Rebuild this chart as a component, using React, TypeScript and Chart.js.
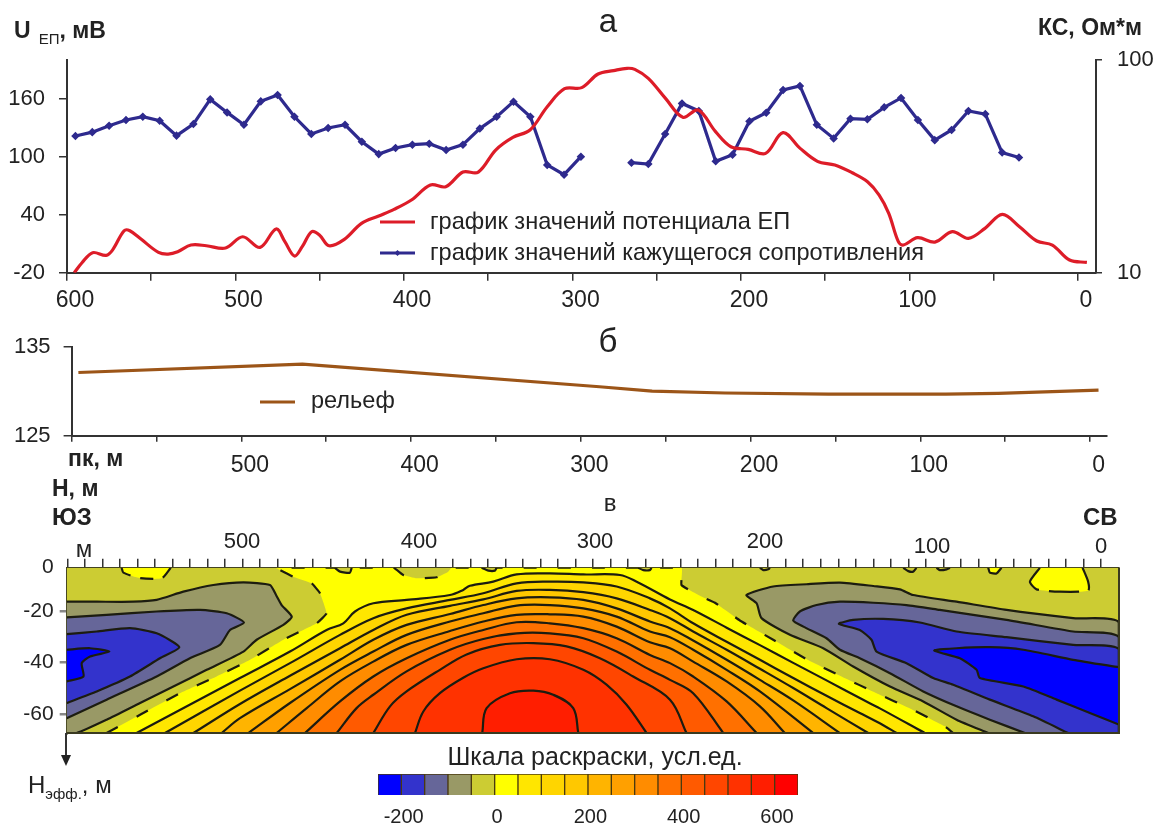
import React, { useEffect, useRef } from "react";
import { Chart, registerables } from "chart.js";

Chart.register(...registerables);

const FONT = '"Liberation Sans", Arial, sans-serif';
const TEXT = "#222222";

// ---- panel a
const epPk = [595.7,591.1,584.8,576.8,573,566.1,562.7,555.9,545.7,540,534.3,526.4,517.3,505.9,495.7,485.4,475.9,470.7,465,460.4,454.8,450.2,444.5,435.4,425.2,415,405.9,395.6,384.3,375.2,365,355.9,345.6,335.4,325.2,315,304.7,294.5,284.8,275.6,267.6,263,255,244.8,234.5,225.4,215.1,206,195.7,185.4,175.1,164.9,154.6,144.3,134,124.9,118,112.3,106.6,103.6,95.2,84.9,74.6,65,55.2,44.9,34.7,24.4,15.2,5,-5.3];
const epValues = [-20,-9.7,0.7,-2.1,3.4,23.4,23.4,14.5,1,-0.7,1.7,8.6,7.9,5.5,17.2,6.2,25.2,12.1,-2.8,6.9,22.4,19,7.9,14.5,31,38.6,45.5,55.2,70.7,69,84.1,84.1,106.9,120,127.6,151.7,170.3,171.4,185.5,189,191.4,190.3,181,160.3,140.7,148.3,125.9,110.3,107.6,103.4,124.8,108.6,95.2,91.4,83.4,74.1,60.3,41.4,12.1,8.6,16.2,11.7,22.4,15.5,25.9,40.3,27.6,12.8,8.6,-6.9,-9.3];
const ksPk = [595,585,575,565,555,545,535,525,515,505,495,485,475,465,455,445,435,425,415,405,395,385,375,365,355,345,335,325,315,305,295,280,265,255,245,235,225,215,205,195,185,175,165,155,145,135,125,115,105,95,85,75,65,55,45,35];
const ksValues = [43.9,45.8,49.1,52.2,54.1,51.8,44.1,50,65.3,56.7,49.6,63.9,68.5,54.1,44.9,47.9,49.6,41.3,36.1,38.6,40,40.4,37.7,40,47.6,54.1,63.7,54.1,32.1,28.9,35.1,null,32.9,32.4,44.9,62.5,57.6,33.4,35.9,51.5,56.5,72.3,75.5,49.6,42.8,53,52.6,59.9,66.3,52.2,42,46.9,57.6,55.7,36.7,34.8];
const axisTicksA = [0,50,100,150,200,250,300,350,400,450,500,550,600];
const epTicks = [-20,40,100,160];
const ksTicks = [10,100];

// ---- panel b
const reliefPk = [596,464,289,258,215,154,85,54,-5];
const reliefH = [132.1,133.05,130.5,130,129.8,129.68,129.68,129.76,130.13];
const reliefHTicks = [125,135];

// ---- panel c: contours as [picket m, depth m]
const frameTop = -3.17;
const frameBottom = -67.48;
const depthTicks = [frameTop,-20,-40,-60];
const olive: number[][] = [[593.4,-3.17],[-10.3,-3.17],[-10.3,-67.48],[593.4,-67.48]];
const grayLeft = [[593.4,-16.4],[576.2,-16.4],[555.2,-16.4],[541.8,-15.7],[526.5,-12.5],[509.3,-9.9],[492,-8.9],[476.8,-9.9],[473.3,-13.8],[470.1,-17.7],[464.3,-22.2],[469.1,-25.4],[484.4,-31.2],[492,-35.8],[513.1,-42.9],[532.2,-49.4],[551.3,-55.8],[570.5,-62.3],[587.7,-67.5],[593.4,-67.5]];
const slateLeft = [[593.4,-22.5],[570.5,-21.5],[541.8,-20.2],[516.9,-19.6],[501.6,-20.9],[491.7,-24.5],[499.7,-27.4],[505.5,-33.2],[522.7,-38.4],[541.8,-45.5],[570.5,-54.5],[593.4,-61.7]];
const blueLeft = [[593.4,-29],[576.2,-28],[557.1,-26.7],[541.8,-28.7],[528.8,-34.1],[539.9,-38.4],[557.1,-45.5],[576.2,-51.3],[593.4,-55.8]];
const deepLeft = [[593.4,-35.1],[580,-34.5],[568.9,-35.8],[580,-37.7],[584.8,-40.3],[583.8,-45.5],[593.4,-47.4]];
const grayRight = [[64.7,-67.5],[82.9,-62.3],[102,-55.2],[121.1,-49.4],[142.2,-41.6],[159.4,-34.5],[178.5,-29.3],[194.8,-22.8],[197.6,-17],[203.4,-13.8],[188.1,-10.5],[168.9,-9.6],[149.8,-9],[130.7,-10.3],[115.4,-11.6],[107.8,-13.8],[82.9,-16.4],[54.2,-19.6],[16,-22.8],[-10.2,-24.5],[-10.2,-67.5]];
const slateRight = [[43.7,-67.5],[63.8,-62.3],[82.9,-57.1],[102,-51.3],[121.1,-44.2],[138.4,-38.4],[149.8,-35.1],[157.5,-30.6],[170.8,-26.1],[176.6,-23.7],[172.8,-20.2],[163.2,-17.7],[149.8,-16.4],[130.7,-16.8],[111.6,-17.7],[92.5,-19.6],[54.2,-23.5],[16,-28],[-10.2,-30.2],[-10.2,-67.5]];
const blueRight = [[18.9,-67.5],[38.9,-61],[63.8,-54.5],[84.8,-48.7],[96.3,-46.1],[111.6,-40.3],[128.8,-35.8],[131.7,-31.2],[138.4,-27.4],[150.4,-25],[142.2,-23.5],[125,-23.1],[103.9,-24.5],[82.9,-28],[54.2,-30.2],[16,-33.2],[-10.2,-34.9],[-10.2,-67.5]];
const deepRight = [[-10.2,-64.2],[6.4,-59.7],[25.5,-54.5],[44.6,-49.4],[69.5,-46.1],[71.4,-42.9],[81,-38.4],[95.7,-35.4],[82.9,-34.5],[63.8,-34.1],[44.6,-35.1],[16,-39],[-10.2,-41.9]];
const zeroLine = [[570.5,-67.5],[551.3,-60.4],[528.4,-52],[507.4,-45.5],[488.2,-39],[469.1,-31.2],[450,-24.8],[444.3,-20.9],[448.1,-13.1],[452.9,-9.25],[463.4,-6.7],[471,-4.1],[473.3,-3.2],[406,-3.2],[400.3,-6],[392.6,-7.3],[381.2,-6.9],[374.5,-4.7],[372.6,-3.2],[240.7,-3.2],[240.7,-9.9],[229.2,-14.4],[221.5,-16.8],[207.2,-23.7],[188.1,-31.2],[168.9,-38.8],[148.9,-45.5],[128.8,-52],[108.7,-58.2],[89.6,-64.9],[84.8,-67.5]];
const zeroPocketA = [[561.9,-3.2],[560.9,-5.1],[551.3,-7.2],[538.9,-7.3],[533.7,-3.2]];
const zeroPocketB = [[35.1,-3.2],[40.8,-8.6],[37,-11.6],[23.6,-12.5],[7.4,-12.1],[7.4,-8.6],[10.6,-3.2]];
const bumps = [
  [[439.5,-3.2],[436.6,-4.7],[430.9,-5.1],[429.9,-3.2]],
  [[355.4,-3.2],[351.5,-4.3],[347.7,-4.3],[346.8,-3.2]],
  [[265.5,-3.2],[262.6,-4.1],[258.8,-4.1],[257.9,-3.2]],
  [[195.7,-3.2],[193.8,-4.1],[190.9,-3.8],[190,-3.2]],
  [[113.5,-3.2],[110.6,-4.5],[107.8,-4.7],[105.9,-3.2]],
  [[94.4,-3.2],[92.5,-4.1],[88.6,-3.8],[86.7,-3.2]],
  [[64.7,-3.2],[63.8,-5.1],[60,-5.4],[57.1,-3.2]],
];
const L1 = [[553.3,-67.5],[494,-46.1],[465.3,-35.8],[444.3,-27.4],[434.7,-24.8],[428,-20.2],[417.5,-17],[398.4,-15.7],[373.5,-13.8],[365.9,-11.8],[362.1,-10.2],[348.7,-8.6],[335.3,-5.8],[316.2,-5.4],[297,-5.8],[276,-6],[266.4,-8.6],[247.3,-15.5],[234,-19.6],[214.8,-26.5],[195.7,-33.3],[176.6,-40.2],[157.5,-47],[138.4,-53.9],[126.9,-57.9],[101.1,-67.5]];
const L2 = [[537,-67.5],[494,-51],[465.3,-40.3],[436.6,-29.3],[417.5,-22.8],[398.4,-19],[373.5,-15.7],[354.4,-13.1],[335.3,-9.25],[316.2,-8.6],[297,-8.9],[277.9,-10.5],[258.8,-15.1],[247.3,-19],[234,-24.8],[214.8,-32],[195.7,-39],[176.6,-46.1],[157.5,-53],[138.4,-59.7],[126.9,-63.7],[117.3,-67.5]];
const L3 = [[520.7,-67.5],[494,-56.2],[465.3,-45.2],[436.6,-34.5],[417.5,-27.4],[398.4,-21.5],[373.5,-18],[354.4,-15.5],[335.3,-12.2],[316.2,-11.8],[297,-12.7],[277.9,-15.1],[258.8,-19.6],[247.3,-22.8],[234,-28],[214.8,-35.1],[195.7,-42.5],[176.6,-50],[157.5,-57.8],[133.6,-67.5]];
const L4 = [[504.5,-67.5],[494,-61.7],[465.3,-50.4],[436.6,-39],[417.5,-31.2],[398.4,-25.4],[373.5,-21.2],[354.4,-17.7],[335.3,-15.1],[316.2,-14.7],[297,-15.7],[277.9,-19],[258.8,-24.1],[247.3,-26.7],[234,-31.5],[214.8,-39],[195.7,-46.8],[176.6,-54.8],[149.8,-67.5]];
const L5 = [[489.2,-67.5],[465.3,-55.8],[436.6,-42.9],[417.5,-35.8],[398.4,-29.3],[373.5,-24.1],[354.4,-20.9],[335.3,-17.9],[316.2,-17.7],[297,-19],[277.9,-22.2],[258.8,-28],[247.3,-30.2],[234,-35.1],[214.8,-42.9],[195.7,-51.3],[165.1,-67.5]];
const L6 = [[473,-67.5],[455.7,-57.8],[436.6,-47.4],[417.5,-39.7],[398.4,-33.2],[373.5,-27.8],[354.4,-24.1],[335.3,-21.5],[316.2,-21.3],[297,-22.2],[277.9,-26.1],[258.8,-32.2],[247.3,-34.5],[234,-39.7],[214.8,-47.4],[195.7,-57.1],[181.4,-67.5]];
const L7 = [[456.7,-67.5],[436.6,-55.2],[417.5,-45.5],[398.4,-38.4],[373.5,-31.2],[354.4,-27.4],[335.3,-24.4],[316.2,-24.8],[297,-26.7],[277.9,-30.6],[258.8,-37.1],[247.3,-40.3],[234,-45.5],[214.8,-55.2],[197.6,-67.5]];
const L8 = [[438.5,-67.5],[427.1,-57.8],[417.5,-52.6],[398.4,-43.5],[373.5,-35.1],[354.4,-30.9],[335.3,-28.7],[316.2,-28.7],[297,-30.6],[277.9,-35.8],[258.8,-42.9],[247.3,-46.8],[234,-52],[216.7,-67.5]];
const L9 = [[417.5,-67.5],[407.9,-57.1],[398.4,-51.3],[379.3,-42.9],[364,-36.9],[344.8,-33.2],[325.7,-32.5],[306.6,-33.8],[287.5,-38.4],[268.4,-45.5],[247.3,-54.5],[237.8,-67.5]];
const L10 = [[393.6,-67.5],[388.8,-59.1],[379.3,-52],[365.9,-46],[354.4,-42.3],[335.3,-38.8],[316.2,-38.8],[297,-42.9],[283.7,-48.7],[272.2,-56.5],[260.7,-67.5]];
const L11 = [[355,-67.5],[352.5,-57.8],[339.1,-52],[325.7,-51],[314.3,-52.6],[302.8,-57.8],[299.9,-67.5]];
const domeLines = [L1,L2,L3,L4,L5,L6,L7,L8,L9,L10,L11];

// ---- colour scale
const scaleColors = ["#0000FF","#3333CC","#666699","#999966","#CCCC33","#FFFF00","#FFE600","#FFD500","#FFC800","#FFB400","#FFA000","#FF8C00","#FF7000","#FF5A00","#FF4600","#FF3200","#FF1E00","#FF0000"];
const scaleLabels = ["-200","","","","0","","","","200","","","","400","","","","600",""];

// ---- free-standing labels
const topPicketLabels = [
  { t: "м", x: 84, y: 549, s: 24 },
  { t: "500", x: 242, y: 541, s: 22 },
  { t: "400", x: 419, y: 541, s: 22 },
  { t: "300", x: 595, y: 541, s: 22 },
  { t: "200", x: 765, y: 541, s: 22 },
  { t: "100", x: 932, y: 546, s: 22 },
  { t: "0", x: 1101, y: 546, s: 22 },
];

function Label({ x, y, size, bold, align = "center", children }: any) {
  const tr = align === "center" ? "translate(-50%,-50%)" : "translate(0,-50%)";
  return (
    <div style={{ position: "absolute", left: x, top: y, transform: tr, fontFamily: FONT, fontSize: size, fontWeight: bold ? 700 : 400, color: TEXT, whiteSpace: "nowrap", lineHeight: 1 }}>
      {children}
    </div>
  );
}

const pts = (xs: number[], ys: (number | null)[]) => xs.map((x, i) => ({ x, y: ys[i] }));
const pairs = (a: number[][]) => a.map(([x, y]) => ({ x, y }));

function fixedAxis(width?: number, height?: number) {
  return (s: any) => {
    if (width !== undefined) s.width = width;
    if (height !== undefined) s.height = height;
  };
}

function inlineLegend(items: { index: number; y: number; x0: number; x1: number; tx: number }[], size: number) {
  return {
    id: "inlineLegend",
    afterDraw(chart: any) {
      const ctx = chart.ctx;
      items.forEach((it) => {
        const ds = chart.data.datasets[it.index];
        ctx.save();
        ctx.strokeStyle = ds.borderColor;
        ctx.lineWidth = 3;
        ctx.beginPath();
        ctx.moveTo(it.x0, it.y);
        ctx.lineTo(it.x1, it.y);
        ctx.stroke();
        if (ds.pointRadius > 0) {
          const m = (it.x0 + it.x1) / 2;
          ctx.fillStyle = ds.borderColor;
          ctx.beginPath();
          ctx.moveTo(m - 3, it.y); ctx.lineTo(m, it.y - 3); ctx.lineTo(m + 3, it.y); ctx.lineTo(m, it.y + 3);
          ctx.closePath();
          ctx.fill();
        }
        ctx.fillStyle = TEXT;
        ctx.font = `${size}px ${FONT}`;
        ctx.textBaseline = "middle";
        ctx.textAlign = "left";
        ctx.fillText(ds.label, it.tx, it.y);
        ctx.restore();
      });
    },
  };
}

const framePlugin = {
  id: "frameEdges",
  afterDatasetsDraw(chart: any) {
    const { ctx, chartArea: a } = chart;
    ctx.save();
    ctx.strokeStyle = "#3a3a20";
    ctx.lineWidth = 2;
    ctx.beginPath();
    ctx.moveTo(a.right, a.top);
    ctx.lineTo(a.right, a.bottom);
    ctx.lineTo(a.left, a.bottom);
    ctx.stroke();
    ctx.restore();
  },
};

const base = { animation: false as const, responsive: false, maintainAspectRatio: false, events: [] as string[] };
const noLegend = { legend: { display: false }, tooltip: { enabled: false } };
const AXIS = "#333333";
const tickFont = (size: number) => ({ family: FONT, size });

function buildA(canvas: HTMLCanvasElement) {
  return new Chart(canvas, {
    type: "scatter",
    data: {
      datasets: [
        { label: "график значений потенциала ЕП", data: pts(epPk, epValues), showLine: true, borderColor: "#DD1C28", borderWidth: 3.2, pointRadius: 0, tension: 0.35, yAxisID: "y" },
        { label: "график значений кажущегося сопротивления", data: pts(ksPk, ksValues), showLine: true, borderColor: "#2E2A8E", backgroundColor: "#2E2A8E", borderWidth: 3.2, pointRadius: 2, pointStyle: "rectRot", tension: 0, yAxisID: "y1" },
      ],
    },
    options: {
      ...base,
      layout: { padding: { left: 1, right: 7, top: 60, bottom: 825 - 272.7 - 45 } },
      plugins: noLegend,
      scales: {
        x: {
          type: "linear", reverse: true, min: -10.7, max: 600,
          afterBuildTicks: (s: any) => { s.ticks = axisTicksA.map((value) => ({ value })); },
          afterFit: fixedAxis(undefined, 45),
          grid: { drawOnChartArea: false, color: AXIS, tickLength: 8, lineWidth: 1.5 },
          border: { color: AXIS, width: 2 },
          ticks: { autoSkip: false, maxRotation: 0, labelOffset: 8, padding: 6, color: TEXT, font: tickFont(23), callback: (v: any) => (v % 100 === 0 ? String(v) : "") },
        },
        y: {
          type: "linear", min: -20, max: 200, position: "left",
          afterBuildTicks: (s: any) => { s.ticks = epTicks.map((value) => ({ value })); },
          afterFit: fixedAxis(66),
          grid: { drawOnChartArea: false, color: AXIS, tickLength: 8, lineWidth: 1.5 },
          border: { color: AXIS, width: 2 },
          ticks: { padding: 14, color: TEXT, font: tickFont(22) },
        },
        y1: {
          type: "logarithmic", min: 10, max: 100, position: "right",
          afterBuildTicks: (s: any) => { s.ticks = ksTicks.map((value) => ({ value })); },
          afterFit: fixedAxis(60),
          grid: { drawOnChartArea: false, color: AXIS, tickLength: 6, lineWidth: 1.5 },
          border: { color: AXIS, width: 2 },
          ticks: { padding: 15, color: TEXT, font: tickFont(22), callback: (v: any) => String(v) },
        },
      },
    } as any,
    plugins: [inlineLegend([
      { index: 0, y: 222, x0: 380, x1: 415, tx: 430 },
      { index: 1, y: 253, x0: 380, x1: 415, tx: 430 },
    ], 23.6)],
  } as any);
}

function buildB(canvas: HTMLCanvasElement) {
  return new Chart(canvas, {
    type: "scatter",
    data: {
      datasets: [
        { label: "рельеф", data: pts(reliefPk, reliefH), showLine: true, borderColor: "#9C5518", borderWidth: 3.2, pointRadius: 0, tension: 0 },
      ],
    },
    options: {
      ...base,
      layout: { padding: { left: 1.6, right: 1163 - 1106.5, top: 346.7, bottom: 825 - 435.7 - 45 } },
      plugins: noLegend,
      scales: {
        x: {
          type: "linear", reverse: true, min: -9.7, max: 600,
          afterBuildTicks: (s: any) => { s.ticks = axisTicksA.map((value) => ({ value })); },
          afterFit: fixedAxis(undefined, 45),
          grid: { drawOnChartArea: false, color: AXIS, tickLength: 6, lineWidth: 1.5 },
          border: { color: AXIS, width: 2 },
          ticks: { autoSkip: false, maxRotation: 0, labelOffset: 8.5, padding: 10, color: TEXT, font: tickFont(23), callback: (v: any) => (v % 100 === 0 && v !== 600 ? String(v) : "") },
        },
        y: {
          type: "linear", min: 125, max: 135, position: "left",
          afterBuildTicks: (s: any) => { s.ticks = reliefHTicks.map((value) => ({ value })); },
          afterFit: fixedAxis(70),
          grid: { drawOnChartArea: false, color: AXIS, tickLength: 8, lineWidth: 1.5 },
          border: { color: AXIS, width: 2 },
          ticks: { padding: 13, color: TEXT, font: tickFont(22) },
        },
      },
    } as any,
    plugins: [inlineLegend([{ index: 0, y: 402, x0: 260, x1: 295, tx: 311 }], 23.5)],
  } as any);
}

function buildC(canvas: HTMLCanvasElement) {
  const line = "#1c1c10";
  const band = (points: number[][], color: string, extra: any = {}) => ({
    data: pairs(points), showLine: true, fill: "shape", backgroundColor: color,
    borderColor: line, borderWidth: 2.2, pointRadius: 0, tension: 0.2, ...extra,
  });
  const layers: any[] = [
    band(olive, scaleColors[4], { borderWidth: 0, tension: 0 }),
    band(grayLeft, scaleColors[3]), band(slateLeft, scaleColors[2]), band(blueLeft, scaleColors[1]), band(deepLeft, scaleColors[0]),
    band(grayRight, scaleColors[3]), band(slateRight, scaleColors[2]), band(blueRight, scaleColors[1]), band(deepRight, scaleColors[0]),
    band(zeroLine, scaleColors[5], { borderDash: [13, 21], tension: 0.1 }),
    band(zeroPocketA, scaleColors[5], { borderDash: [13, 10] }),
    band(zeroPocketB, scaleColors[5], { borderDash: [30, 10] }),
    ...bumps.map((b, i) => band(b, i === 6 ? scaleColors[5] : scaleColors[4])),
    ...domeLines.map((l, i) => band(l, scaleColors[6 + i], { tension: 0.35 })),
  ];
  layers.forEach((d, i) => { d.order = layers.length - i; });
  return new Chart(canvas, {
    type: "scatter",
    data: { datasets: layers },
    options: {
      ...base,
      layout: { padding: { left: 6.7, right: 44, top: 557.7, bottom: 92 } },
      plugins: { ...noLegend, filler: { propagate: false } },
      scales: {
        x: { type: "linear", reverse: true, min: -10.3, max: 593.4, display: false },
        top: {
          type: "linear", position: "top", reverse: true, min: -10.3, max: 593.4,
          afterBuildTicks: (s: any) => { s.ticks = Array.from({ length: 60 }, (_, k) => ({ value: k * 10.05 })); },
          afterFit: fixedAxis(undefined, 10),
          grid: { drawOnChartArea: false, color: "#333", tickLength: 9, lineWidth: 1.5 },
          border: { color: "#3a3a20", width: 2 },
          ticks: { display: false, autoSkip: false },
        },
        y: {
          type: "linear", min: frameBottom, max: frameTop, position: "left",
          afterBuildTicks: (s: any) => { s.ticks = depthTicks.map((value) => ({ value })); },
          afterFit: fixedAxis(60),
          grid: { drawOnChartArea: false, color: (c: any) => (c.tick && c.tick.value === frameTop ? "rgba(0,0,0,0)" : "#888"), tickLength: 7, lineWidth: 2.5 },
          border: { color: "#3a3a20", width: 2 },
          ticks: { padding: 6, color: TEXT, font: tickFont(21), callback: (v: any) => (v === frameTop ? "0" : String(v)) },
        },
      },
    } as any,
    plugins: [framePlugin],
  } as any);
}

function buildScale(canvas: HTMLCanvasElement) {
  return new Chart(canvas, {
    type: "bar",
    data: {
      labels: scaleLabels,
      datasets: [{ data: scaleColors.map(() => 1), backgroundColor: scaleColors, borderColor: "#4a3a10", borderWidth: 1, barPercentage: 1, categoryPercentage: 1 }],
    },
    options: {
      ...base,
      layout: { padding: { left: 378, right: 365, top: 774, bottom: 0 } },
      plugins: noLegend,
      scales: {
        x: {
          afterFit: fixedAxis(undefined, 30),
          grid: { display: false },
          border: { display: false },
          ticks: { autoSkip: false, maxRotation: 0, labelOffset: 14, padding: 2, color: TEXT, font: tickFont(20) },
        },
        y: { display: false, min: 0, max: 1 },
      },
    } as any,
  } as any);
}

export default function App() {
  const a = useRef<HTMLCanvasElement>(null);
  const b = useRef<HTMLCanvasElement>(null);
  const c = useRef<HTMLCanvasElement>(null);
  const s = useRef<HTMLCanvasElement>(null);
  useEffect(() => {
    const charts = [buildC(c.current!), buildA(a.current!), buildB(b.current!), buildScale(s.current!)];
    return () => charts.forEach((ch) => ch.destroy());
  }, []);
  const cv = { position: "absolute" as const, left: 0, top: 0, display: "block" };
  return (
    <div style={{ position: "fixed", left: 0, top: 0, width: 1163, height: 825, background: "#fff", overflow: "hidden", filter: "blur(0.4px)" }}>
      <canvas ref={c} width={1163} height={825} style={cv} />
      <canvas ref={a} width={1163} height={825} style={cv} />
      <canvas ref={b} width={1163} height={825} style={cv} />
      <canvas ref={s} width={1163} height={825} style={cv} />
      <svg width={1163} height={825} style={{ ...cv, pointerEvents: "none" }}>
        <line x1={66} y1={733} x2={66} y2={758} stroke="#333" strokeWidth={2} />
        <polygon points="61,755 71,755 66,766" fill="#222" />
      </svg>

      <Label x={608} y={20} size={33}>а</Label>
      <Label x={608} y={340} size={33}>б</Label>
      <Label x={610} y={503} size={24}>в</Label>

      <Label x={14} y={30} size={23} bold align="left">U<span style={{ fontSize: 15, position: "relative", top: 6, marginLeft: 8, fontWeight: 400 }}>ЕП</span>, мВ</Label>
      <Label x={1038} y={27} size={23} bold align="left">КС, Ом*м</Label>
      <Label x={68} y={458} size={23} bold align="left">пк, м</Label>
      <Label x={52} y={488} size={23} bold align="left">Н, м</Label>
      <Label x={52} y={517} size={24} bold align="left">ЮЗ</Label>
      <Label x={1083} y={517} size={24} bold align="left">СВ</Label>
      {topPicketLabels.map((l) => (<Label key={l.t} x={l.x} y={l.y} size={l.s}>{l.t}</Label>))}
      <Label x={595} y={756} size={25}>Шкала раскраски, усл.ед.</Label>
      <Label x={28} y={785} size={24} align="left">Н<span style={{ fontSize: 15, position: "relative", top: 6 }}>эфф.</span>, м</Label>
    </div>
  );
}
